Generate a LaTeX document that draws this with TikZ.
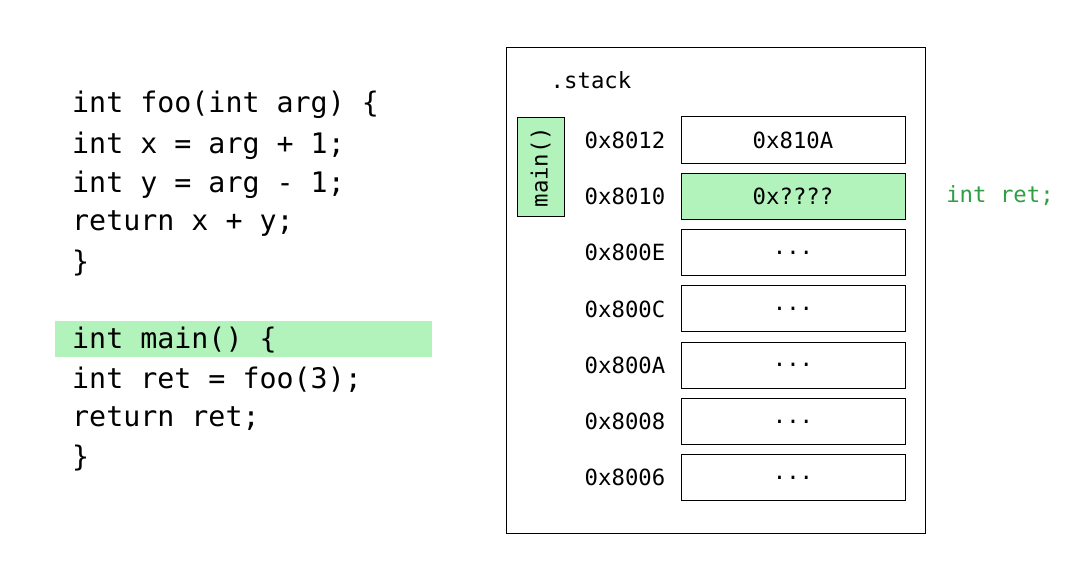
\documentclass[tikz,border=0pt]{standalone}
\usepackage{fontspec}
\setmonofont{DejaVu Sans Mono}
\definecolor{hl}{HTML}{B2F2BB}
\definecolor{gtxt}{HTML}{2F9E44}
\newcommand\mydots{...}
\begin{document}
\begin{tikzpicture}[x=1pt,y=-1pt,
  code/.style={anchor=west,inner sep=0pt,font=\ttfamily\fontsize{28.3}{30}\selectfont},
  small/.style={inner sep=0pt,font=\ttfamily\fontsize{22.3}{24}\selectfont},
  cell/.style={draw,line width=1pt,minimum width=224pt,minimum height=46pt,inner sep=0pt,font=\ttfamily\fontsize{22.3}{24}\selectfont}]
\useasboundingbox (0,0) rectangle (1092,567);
\fill[hl] (55,321) rectangle (432,357);
\node[code] (l1) at (72,105) {int foo(int arg) \{};
\node[code] (l2) at (72,146) {int x = arg + 1;};
\node[code] (l3) at (72,185) {int y = arg - 1;};
\node[code] (l4) at (72,224) {return x + y;};
\node[code] (l5) at (72,263) {\}};
\node[code] (l6) at (72,340) {int main() \{};
\node[code] (l7) at (72,380) {int ret = foo(3);};
\node[code] (l8) at (72,419) {return ret;};
\node[code] (l9) at (72,458) {\}};
\draw[line width=1pt] (506,48) rectangle (925,533);
\node[small] (st) at (591,80) {.stack};
\node[draw,line width=1pt,fill=hl,minimum width=47pt,minimum height=98pt,inner sep=0pt] (mb) at (540.5,167) {};
\node[small,rotate=90] (mt) at (mb.center) {main()};
\foreach \i/\a/\v/\f in {0/8012/0x810A/white,1/8010/0x????/hl,2/800E/\mydots/white,3/800C/\mydots/white,4/800A/\mydots/white,5/8008/\mydots/white,6/8006/\mydots/white}{
  \node[cell,fill=\f] (c\i) at (793,140+56.3*\i) {\v};
  \node[small] (a\i) at (625,140+56.3*\i) {0x\a};
}
\node[small,text=gtxt] (ir) at (1000,196) {int ret;};
\end{tikzpicture}
\end{document}
